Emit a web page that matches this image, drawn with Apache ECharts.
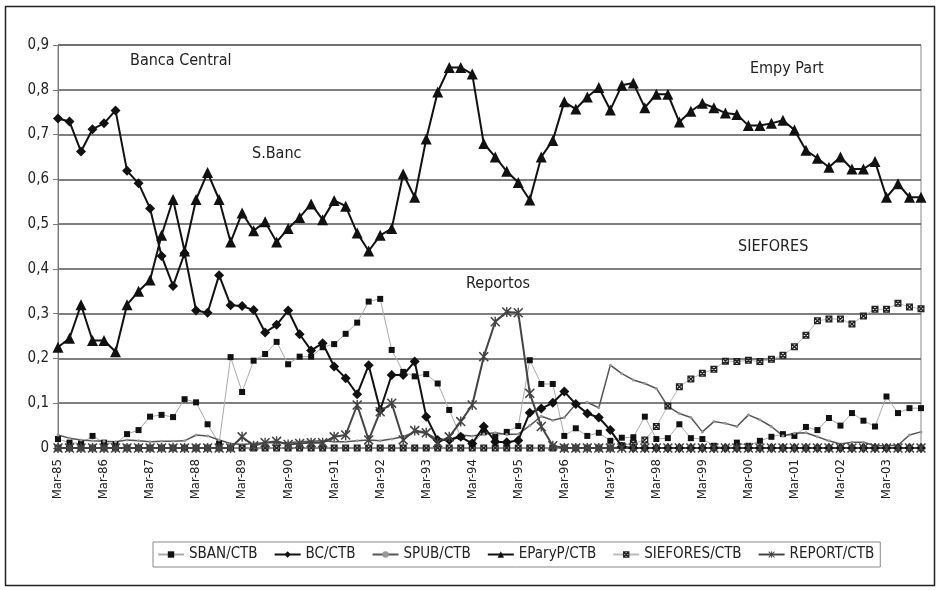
<!DOCTYPE html>
<html>
<head>
<meta charset="utf-8">
<script src="https://cdn.jsdelivr.net/npm/echarts@6/dist/echarts.min.js"></script>
<style>
html,body{margin:0;padding:0;background:#fff;}
#c{width:937px;height:590px;}
</style>
</head>
<body>
<div id="c"></div>
<script>
var categories = [
 'Mar-85','Jun-85','Sep-85','Dec-85','Mar-86','Jun-86','Sep-86','Dec-86',
 'Mar-87','Jun-87','Sep-87','Dec-87','Mar-88','Jun-88','Sep-88','Dec-88',
 'Mar-89','Jun-89','Sep-89','Dec-89','Mar-90','Jun-90','Sep-90','Dec-90',
 'Mar-91','Jun-91','Sep-91','Dec-91','Mar-92','Jun-92','Sep-92','Dec-92',
 'Mar-93','Jun-93','Sep-93','Dec-93','Mar-94','Jun-94','Sep-94','Dec-94',
 'Mar-95','Jun-95','Sep-95','Dec-95','Mar-96','Jun-96','Sep-96','Dec-96',
 'Mar-97','Jun-97','Sep-97','Dec-97','Mar-98','Jun-98','Sep-98','Dec-98',
 'Mar-99','Jun-99','Sep-99','Dec-99','Mar-00','Jun-00','Sep-00','Dec-00',
 'Mar-01','Jun-01','Sep-01','Dec-01','Mar-02','Jun-02','Sep-02','Dec-02',
 'Mar-03','Jun-03','Sep-03','Dec-03'
];

var sban = [0.02,0.012,0.01,0.027,0.012,0.009,0.031,0.04,0.07,0.074,0.069,0.109,0.102,0.053,0.01,
 0.203,0.125,0.195,0.21,0.237,0.187,0.204,0.204,0.225,0.232,0.255,
 0.28,0.327,0.333,0.219,0.17,0.16,0.165,0.144,0.085,
 0.025,0.01,0.035,0.025,0.036,0.049,0.196,0.143,0.143,0.027,0.044,0.027,0.034,0.016,0.023,
 0.024,0.07,0.02,0.022,0.053,0.022,0.02,0.005,0.0,0.012,0.005,0.016,0.025,0.031,0.027,0.047,0.04,0.067,0.05,0.078,
 0.061,0.048,0.115,0.078,0.089,0.089];

var bc = [0.736,0.729,0.662,0.712,0.725,0.754,0.619,0.591,0.535,0.429,0.362,0.435,0.307,0.302,0.386,0.319,0.317,0.308,0.258,0.275,
 0.307,0.254,0.218,0.234,0.182,0.156,
 0.12,0.185,0.085,0.163,0.163,0.193,0.07,0.018,0.018,0.025,0.01,0.048,0.014,0.013,0.017,0.079,0.088,0.101,0.126,0.098,
 0.077,0.068,0.04,0.003,
 0,0,0,0,0,0,0,0,0,0,0,0,0,0,0,0,0,0,0,0,0,0,0,0,0,0];

var spub = [0.029,0.022,0.018,0.016,0.015,0.014,0.018,0.016,0.014,0.015,0.015,0.016,0.029,0.027,0.018,
 0.01,0.008,0.01,0.012,0.012,0.012,0.014,0.015,0.016,0.014,0.014,0.016,0.018,0.016,0.02,
 0.025,0.036,0.033,0.02,0.018,0.029,0.027,0.031,0.034,0.03,0.031,0.05,0.071,0.062,0.068,0.098,0.102,0.09,
 0.185,0.166,0.152,0.144,0.133,0.093,0.077,0.068,0.036,0.059,0.055,0.048,0.074,0.063,0.048,0.027,0.033,0.034,0.025,0.016,
 0.009,0.013,0.013,0.005,0.005,0.006,0.029,0.036];

var eparyp = [0.225,0.245,0.32,0.24,0.24,0.215,0.32,0.35,0.375,0.475,0.555,0.44,0.555,0.615,0.555,0.46,0.525,0.485,0.505,0.46,
 0.49,0.515,0.545,0.51,0.553,0.54,0.48,0.44,0.475,0.49,0.612,0.56,0.69,0.795,0.85,0.85,0.835,0.68,0.65,0.618,
 0.593,0.554,0.65,0.687,0.773,0.757,0.784,0.805,0.755,0.81,0.815,0.76,0.79,0.79,0.728,0.752,0.77,0.76,0.748,0.745,
 0.72,0.72,0.725,0.732,0.71,0.665,0.647,0.627,0.65,0.623,0.623,0.64,0.56,0.59,0.56,0.56];

var siefores = [0,0,0,0,0,0,0,0,0,0,0,0,0,0,0,0,0,0,0,0,0,0,0,0,0,0,0,0,0,0,0,0,0,0,0,0,0,0,0,0,0,0,0,0,0,0,0,0,0,
 0.005,0.01,0.018,0.048,0.094,0.137,0.154,0.167,0.176,0.194,0.193,0.196,0.193,0.198,0.207,0.226,0.252,0.284,0.288,0.288,0.277,
 0.295,0.31,0.31,0.323,0.315,0.311];

var report = [0,0,0,0,0,0,0,0,0,0,0,0,0,0,0,0,
 0.025,0.005,0.012,0.015,0.008,0.01,0.012,0.012,0.025,0.029,0.096,0.018,0.081,0.1,0.018,0.039,0.034,0.012,0.025,0.059,0.096,
 0.204,0.282,0.304,0.302,0.122,0.048,0.005,
 0,0,0,0,0,0,0,0,0,0,0,0,0,0,0,0,0,0,0,0,0,0,0,0,0,0,0,0,0,0,0,0];

var seriesNames = ['SBAN/CTB','BC/CTB','SPUB/CTB','EParyP/CTB','SIEFORES/CTB','REPORT/CTB'];
var yTicks = {min:0, max:0.9, interval:0.1};

var FONT = "'Liberation Sans Narrow','DejaVu Sans Condensed','Arial Narrow',sans-serif";
var XBOX = 'path://M0,0 L10,0 L10,1.8 L0,1.8 Z M0,8.2 L10,8.2 L10,10 L0,10 Z M0,0 L1.8,0 L1.8,10 L0,10 Z M8.2,0 L10,0 L10,10 L8.2,10 Z M0,1.4 L1.4,0 L10,8.6 L8.6,10 Z M8.6,0 L10,1.4 L1.4,10 L0,8.6 Z';
var STAR = 'path://M4.3,0 L5.7,0 L5.7,10 L4.3,10 Z M0,1.1 L1.1,0 L10,8.9 L8.9,10 Z M8.9,0 L10,1.1 L1.1,10 L0,8.9 Z';

function mk(name, data, symbol, size, color, lineColor, lineWidth, z) {
  return {
    name: name, type: 'line', data: data,
    symbol: symbol, symbolSize: size, showSymbol: true, showAllSymbol: true,
    itemStyle: {color: color, borderWidth: 0},
    lineStyle: {color: lineColor, width: lineWidth},
    emphasis: {disabled: true},
    z: z
  };
}

var chart = echarts.init(document.getElementById('c'), null, {renderer: 'canvas'});
chart.setOption({
  animation: false,
  backgroundColor: '#fff',
  grid: {left: 58, right: 16, top: 45, bottom: 142, show: true, borderColor: '#888', borderWidth: 1, backgroundColor: 'transparent'},
  xAxis: {
    type: 'category', data: categories, boundaryGap: false,
    axisLine: {lineStyle: {color: '#777', width: 1}},
    axisTick: {show: false},
    axisLabel: {interval: 3, rotate: 90, margin: 11, fontFamily: FONT, fontSize: 13, color: '#222'},
    splitLine: {show: false}
  },
  yAxis: {
    type: 'value', min: yTicks.min, max: yTicks.max, interval: yTicks.interval,
    axisLine: {show: true, lineStyle: {color: '#777', width: 1}},
    axisTick: {show: true, length: 5, lineStyle: {color: '#777'}},
    axisLabel: {margin: 9, fontFamily: FONT, fontSize: 15, color: '#222',
      formatter: function (v) { return v === 0 ? '0' : v.toFixed(1).replace('.', ','); }},
    splitLine: {show: true, lineStyle: {color: '#555', width: 1.5}}
  },
  legend: {
    data: seriesNames, left: 153, top: 542,
    orient: 'horizontal', itemWidth: 26, itemHeight: 8, itemGap: 16,
    borderColor: '#888', borderWidth: 1, padding: [5, 6, 5, 4],
    textStyle: {fontFamily: FONT, fontSize: 15, color: '#222'}
  },
  series: [
    mk(seriesNames[0], sban, 'rect', 6, '#111', '#aaa', 1, 2),
    mk(seriesNames[1], bc, 'diamond', 10, '#111', '#111', 2, 3),
    mk(seriesNames[2], spub, 'circle', 3, '#999', '#555', 1.5, 2),
    mk(seriesNames[3], eparyp, 'triangle', 11, '#111', '#111', 2, 3),
    mk(seriesNames[4], siefores, XBOX, 7, '#222', '#bbb', 1, 2),
    mk(seriesNames[5], report, STAR, 10, '#444', '#444', 2, 3)
  ],
  graphic: [
    {type: 'rect', shape: {x: 5.5, y: 6.5, width: 929, height: 579}, style: {fill: 'none', stroke: '#222', lineWidth: 1.5}, silent: true, z: 0},
    {type: 'text', left: 130, top: 53, style: {text: 'Banca Central', font: '16px ' + FONT, fill: '#222'}},
    {type: 'text', left: 750, top: 61, style: {text: 'Empy Part', font: '16px ' + FONT, fill: '#222'}},
    {type: 'text', left: 252, top: 146, style: {text: 'S.Banc', font: '16px ' + FONT, fill: '#222'}},
    {type: 'text', left: 738, top: 239, style: {text: 'SIEFORES', font: '16px ' + FONT, fill: '#222'}},
    {type: 'text', left: 466, top: 276, style: {text: 'Reportos', font: '16px ' + FONT, fill: '#222'}}
  ]
});
</script>
</body>
</html>
